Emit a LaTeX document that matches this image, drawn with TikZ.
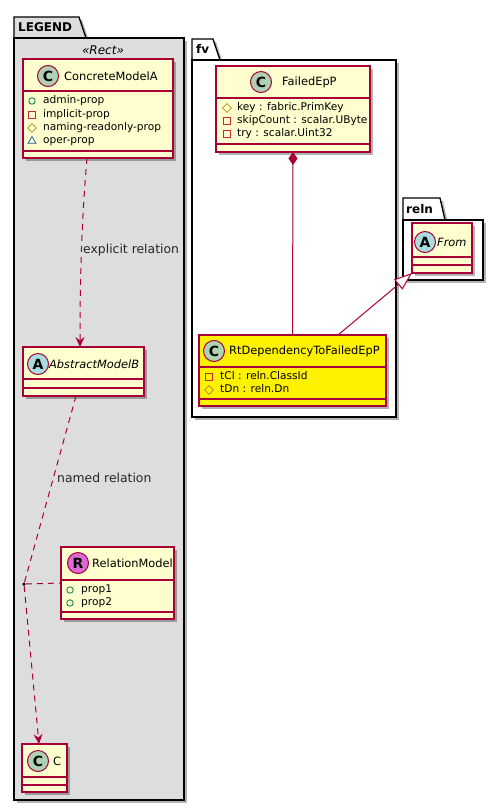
\documentclass[tikz,border=0pt]{standalone}
\usepackage{fontspec}
\setmainfont{DejaVu Sans}
\usetikzlibrary{arrows.meta,shadows,shapes.geometric}
\definecolor{umlred}{HTML}{A80036}
\definecolor{umlfill}{HTML}{FEFECE}
\definecolor{spotc}{HTML}{ADD1B2}
\definecolor{spota}{HTML}{A9DCDF}
\definecolor{spotr}{HTML}{DA6AD6}
\definecolor{pkggray}{HTML}{DDDDDD}
\definecolor{pubcol}{HTML}{038048}
\definecolor{privcol}{HTML}{C82930}
\definecolor{protcol}{HTML}{B38D22}
\definecolor{packcol}{HTML}{1963A0}
\newcommand\clsfont{\fontsize{11.4}{13}\selectfont}
\newcommand\attrfont{\fontsize{10.6}{13}\selectfont}
\newcommand\lblfont{\fontsize{12.4}{14}\selectfont}
\tikzset{
  umlshadow/.style={drop shadow={shadow xshift=3pt,shadow yshift=-3pt,opacity=0.3,fill=black}},
  pkg/.style={draw=black,line width=1.3pt,umlshadow},
  pkgname/.style={anchor=west,inner sep=0,font=\bfseries\fontsize{12}{14}\selectfont},
  classbox/.style={draw=umlred,fill=umlfill,line width=1.2pt,anchor=north west,inner sep=0,outer sep=0,umlshadow},
  sepline/.style={draw=umlred,line width=1.2pt},
  spot/.style={circle,draw=umlred,line width=1pt,minimum size=21pt,inner sep=0,font=\bfseries\fontsize{14}{14}\selectfont},
  cname/.style={anchor=west,inner sep=0,font=\clsfont},
  attr/.style={anchor=west,inner sep=0,text height=8pt,text depth=2.5pt,font=\attrfont},
  pubicon/.style={circle,draw=pubcol,line width=.8pt,minimum size=6.5pt,inner sep=0},
  privicon/.style={rectangle,draw=privcol,line width=.8pt,minimum size=6.5pt,inner sep=0},
  proticon/.style={diamond,draw=protcol,line width=.8pt,minimum size=9pt,inner sep=0},
  packicon/.style={regular polygon,regular polygon sides=3,draw=packcol,line width=.8pt,minimum size=9pt,inner sep=0},
  rel/.style={draw=umlred,line width=1pt},
  dashrel/.style={rel,dash pattern=on 6pt off 5pt},
  lbl/.style={anchor=west,inner sep=0,font=\lblfont,text=black!85}
}
\begin{document}
\begin{tikzpicture}[x=1pt,y=-1pt]
\useasboundingbox (0,0) rectangle (502,811);
% packages
\draw[pkg,fill=pkggray] (14,38) -- (14,17) -- (79,17) -- (86,38) -- cycle;
\draw[pkg,fill=pkggray] (14,38) rectangle (184,800);
\node[pkgname] (legendname) at (18,27) {LEGEND};
\node[font=\itshape\fontsize{12}{14}\selectfont] (rectst) at (103,50) {«Rect»};
\draw[pkg,fill=white] (192,60) -- (192,39) -- (213,39) -- (220,60) -- cycle;
\draw[pkg,fill=white] (192,60) rectangle (396,417);
\node[pkgname] (fvname) at (196,49) {fv};
\draw[pkg,fill=white] (403,220) -- (403,198) -- (440,198) -- (445,220) -- cycle;
\draw[pkg,fill=white] (403,220) rectangle (483,280);
\node[pkgname] (relnname) at (406,209) {reln};

% ConcreteModelA
\node[classbox,minimum width=150pt,minimum height=99pt] (cma) at (23,59) {};
\draw[sepline] (23,91) -- (173,91) (23,151) -- (173,151);
\node[spot,fill=spotc] (cmaspot) at (48,76) {C};
\node[cname] (cmaname) at (64,76) {ConcreteModelA};
\foreach \ic/\txt/\y in {pubicon/admin-prop/101,privicon/implicit-prop/115,proticon/naming-readonly-prop/128,packicon/oper-prop/141}{
  \node[\ic] (cmaicon\y) at (32,\y) {};
  \node[attr] (cmaattr\y) at (43,\y) {\txt};
}

% AbstractModelB
\node[classbox,minimum width=121pt,minimum height=49pt] (amb) at (23,347) {};
\draw[sepline] (23,379) -- (144,379) (23,388) -- (144,388);
\node[spot,fill=spota] (ambspot) at (38,364) {A};
\node[cname,font=\clsfont\itshape] (ambname) at (49,364) {AbstractModelB};

% RelationModel
\node[classbox,minimum width=113pt,minimum height=72pt] (rm) at (61,547) {};
\draw[sepline] (61,580) -- (174,580) (61,612) -- (174,612);
\node[spot,fill=spotr] (rmspot) at (78,563) {R};
\node[cname] (rmname) at (92,563) {RelationModel};
\node[pubicon] (rmicon1) at (70,590) {};
\node[attr] (rmattr1) at (81,590) {prop1};
\node[pubicon] (rmicon2) at (70,603) {};
\node[attr] (rmattr2) at (81,603) {prop2};

% C
\node[classbox,minimum width=45pt,minimum height=48pt] (cc) at (22,744) {};
\draw[sepline] (22,777) -- (67,777) (22,785) -- (67,785);
\node[spot,fill=spotc] (ccspot) at (38,761) {C};
\node[cname] (ccname) at (53,761) {C};

% FailedEpP
\node[classbox,minimum width=154pt,minimum height=86pt] (fep) at (216,66) {};
\draw[sepline] (216,98) -- (370,98) (216,144) -- (370,144);
\node[spot,fill=spotc] (fepspot) at (261,82) {C};
\node[cname] (fepname) at (282,82) {FailedEpP};
\node[proticon] (fepicon1) at (227,108) {};
\node[attr] (fepattr1) at (237,108) {key : fabric.PrimKey};
\node[privicon] (fepicon2) at (227,121) {};
\node[attr] (fepattr2) at (237,121) {skipCount : scalar.UByte};
\node[privicon] (fepicon3) at (227,134) {};
\node[attr] (fepattr3) at (237,134) {try : scalar.Uint32};

% RtDependencyToFailedEpP
\node[classbox,fill=yellow,minimum width=187pt,minimum height=71pt] (rtd) at (199,335) {};
\draw[sepline] (199,367) -- (386,367) (199,399) -- (386,399);
\node[spot,fill=spotc] (rtdspot) at (214,351) {C};
\node[cname] (rtdname) at (229,351) {RtDependencyToFailedEpP};
\node[privicon] (rtdicon1) at (209,377) {};
\node[attr] (rtdattr1) at (220,377) {tCl : reln.ClassId};
\node[proticon] (rtdicon2) at (209,390) {};
\node[attr] (rtdattr2) at (220,390) {tDn : reln.Dn};

% From
\node[classbox,minimum width=60pt,minimum height=50pt] (from) at (412,223) {};
\draw[sepline] (412,257) -- (472,257) (412,265) -- (472,265);
\node[spot,fill=spota] (fromspot) at (425,242) {A};
\node[cname,font=\clsfont\itshape] (fromname) at (437,242) {From};

% relations
\draw[dashrel,-{Stealth[length=10pt,width=9pt,inset=3.5pt]}] ([xshift=-11pt]cma.south) .. controls +(-6,70) and +(0,-60) .. ([xshift=-3.5pt]amb.north);
\node[lbl] (explicitlbl) at (83,250) {explicit relation};
\node[circle,fill=black,inner sep=0,minimum size=3.5pt] (reldot) at (24,584) {};
\draw[dashrel] ([xshift=-7.5pt]amb.south) -- (reldot);
\node[lbl] (namedlbl) at (57,478) {named relation};
\draw[dashrel] (reldot) -- (rm.west);
\draw[dashrel,-{Stealth[length=10pt,width=9pt,inset=3.5pt]}] (reldot) -- ([xshift=-5.5pt]cc.north);
\draw[rel,{Diamond[length=13pt,width=9pt]}-] (fep.south) -- (rtd.north);
\draw[rel,-{Triangle[length=18pt,width=13pt,fill=white]}] ([xshift=45.5pt]rtd.north) -- (from.south west);
\end{tikzpicture}
\end{document}
